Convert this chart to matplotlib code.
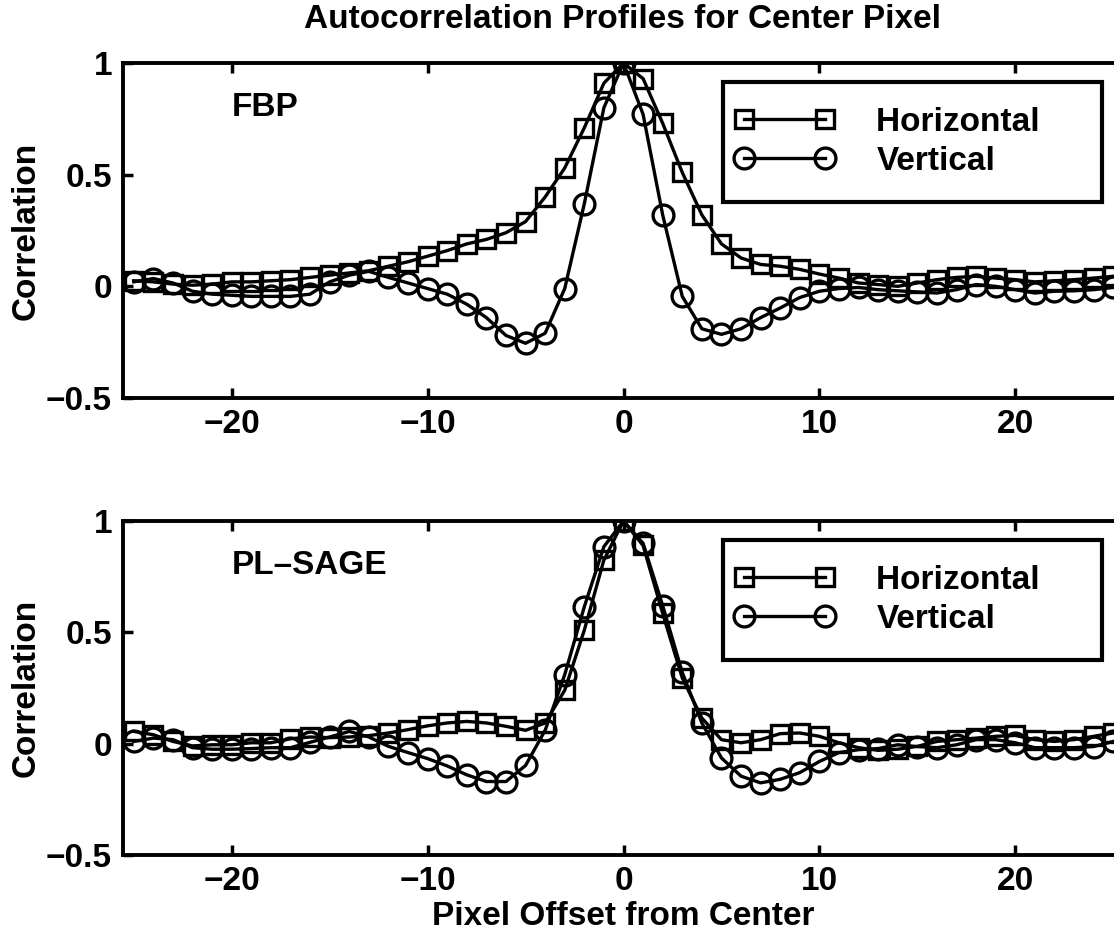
import numpy as np
import matplotlib
matplotlib.use('Agg')
import matplotlib.pyplot as plt
from matplotlib.lines import Line2D
from matplotlib.legend_handler import HandlerLine2D

plt.rcParams['font.family'] = ['Liberation Sans', 'DejaVu Sans']
plt.rcParams['font.weight'] = 'bold'
plt.rcParams['axes.labelweight'] = 'bold'
plt.rcParams['font.size'] = 24

offsets = np.arange(-25, 26)

# FBP profiles
fbp_horiz = [0.025, 0.02, 0.01, 0.005, 0.01, 0.02, 0.02, 0.025, 0.03, 0.04,
             0.05, 0.06, 0.07, 0.09, 0.11, 0.135, 0.16, 0.19, 0.21, 0.24,
             0.29, 0.40, 0.53, 0.71, 0.91, 1.0,
             0.93, 0.73, 0.51, 0.32, 0.19, 0.127, 0.098, 0.09, 0.076, 0.055,
             0.037, 0.015, 0.008, 0.0, 0.015, 0.03, 0.04, 0.045, 0.037, 0.03,
             0.02, 0.025, 0.03, 0.037, 0.045]
fbp_vert = [0.02, 0.035, 0.015, -0.022, -0.035, -0.04, -0.045, -0.045, -0.045, -0.035,
            0.02, 0.05, 0.067, 0.04, 0.015, -0.01, -0.035, -0.08, -0.14, -0.22,
            -0.255, -0.21, -0.01, 0.37, 0.80, 1.0,
            0.77, 0.32, -0.045, -0.19, -0.215, -0.19, -0.14, -0.097, -0.05, -0.022,
            -0.01, -0.005, -0.015, -0.02, -0.025, -0.03, -0.015, 0.008, 0.0, -0.015,
            -0.03, -0.022, -0.02, -0.015, -0.005]

# PL-SAGE profiles
pl_horiz = [0.055, 0.04, 0.01, -0.01, -0.005, -0.005, 0.004, 0.004, 0.022, 0.03,
            0.027, 0.03, 0.036, 0.048, 0.063, 0.08, 0.093, 0.1, 0.093, 0.078,
            0.06, 0.093, 0.24, 0.51, 0.825, 1.0,
            0.89, 0.585, 0.295, 0.115, 0.018, 0.004, 0.018, 0.045, 0.048, 0.033,
            0.004, -0.018, -0.03, -0.025, -0.012, 0.01, 0.018, 0.025, 0.033, 0.037,
            0.018, 0.01, 0.018, 0.033, 0.048]
pl_vert = [0.01, 0.025, 0.018, -0.018, -0.025, -0.025, -0.022, -0.018, -0.018, 0.006,
           0.03, 0.055, 0.03, -0.012, -0.04, -0.067, -0.10, -0.14, -0.17, -0.17,
           -0.098, 0.06, 0.31, 0.615, 0.885, 1.0,
           0.9, 0.62, 0.32, 0.093, -0.064, -0.146, -0.176, -0.16, -0.13, -0.08,
           -0.04, -0.027, -0.022, -0.005, -0.013, -0.018, -0.005, 0.018, 0.018, 0.004,
           -0.018, -0.018, -0.018, -0.013, 0.01]

yticks = [-0.5, 0, 0.5, 1]
ytick_labels = ['\u22120.5', '0', '0.5', '1']
xticks = [-20, -10, 0, 10, 20]
xtick_labels = ['\u221220', '\u221210', '0', '10', '20']

W, H = 1114, 934
fig = plt.figure(figsize=(W / 100, H / 100), dpi=100)

panels = [('FBP', fbp_horiz, fbp_vert, 63, 398),
          ('PL\u2013SAGE', pl_horiz, pl_vert, 521, 855)]

for name, horiz, vert, top, bot in panels:
    ax = fig.add_axes([123 / W, 1 - bot / H, 1001 / W, (bot - top) / H])
    ax.plot(offsets, horiz, '-s', color='black', lw=2.4, ms=13, mew=2.4,
            mfc='none', label='Horizontal    ')
    ax.plot(offsets, vert, '-o', color='black', lw=2.4, ms=15, mew=2.4,
            mfc='none', label='Vertical')
    ax.set_xlim(-25.55, 25.55)
    ax.set_ylim(-0.5, 1)
    ax.set_xticks(xticks)
    ax.set_xticklabels(xtick_labels)
    ax.set_yticks(yticks)
    ax.set_yticklabels(ytick_labels)
    ax.tick_params(direction='in', length=7, width=2.5, top=True, right=True, pad=8)
    for sp in ax.spines.values():
        sp.set_linewidth(2.8)
    ax.set_ylabel('Correlation', labelpad=3)
    ax.text(-20, 0.8, name, va='center', ha='left')
    leg = ax.legend(loc='upper right', bbox_to_anchor=(1102 / W, 1 - (top + 19) / H),
                    bbox_transform=fig.transFigure, borderaxespad=0, fancybox=False,
                    edgecolor='black', framealpha=1, numpoints=2, handlelength=2.2,
                    handletextpad=1.65, labelspacing=0.24, borderpad=0.75,
                    handler_map={Line2D: HandlerLine2D(marker_pad=-0.12)})
    leg.get_frame().set_linewidth(3)
    if name != 'FBP':
        ax.set_xlabel('Pixel Offset from Center', labelpad=3)

fig.text(623 / W, 1 - 19 / H, 'Autocorrelation Profiles for Center Pixel',
         ha='center', va='center')

plt.savefig('out.png', dpi=100)
